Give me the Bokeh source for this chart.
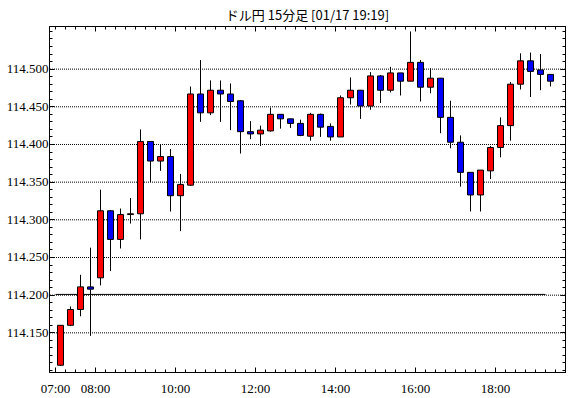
from bokeh.plotting import figure
from bokeh.models import Range1d, LinearAxis, FixedTicker, ColumnDataSource, PrintfTickFormatter, CustomJSTickFormatter
from bokeh.embed import file_html
from bokeh.resources import INLINE

title_text = "ドル円 15分足 [01/17 19:19]"

times = ["07:00", "07:15", "07:30", "07:45", "08:00", "08:15", "08:30", "08:45",
         "09:00", "09:15", "09:30", "09:45", "10:00", "10:15", "10:30", "10:45",
         "11:00", "11:15", "11:30", "11:45", "12:00", "12:15", "12:30", "12:45",
         "13:00", "13:15", "13:30", "13:45", "14:00", "14:15", "14:30", "14:45",
         "15:00", "15:15", "15:30", "15:45", "16:00", "16:15", "16:30", "16:45",
         "17:00", "17:15", "17:30", "17:45", "18:00", "18:15", "18:30", "18:45",
         "19:00", "19:15"]

opens = [114.107, 114.160, 114.181, 114.211, 114.223, 114.312, 114.274, 114.307,
         114.308, 114.404, 114.378, 114.384, 114.332, 114.346, 114.467, 114.442,
         114.472, 114.467, 114.458, 114.417, 114.414, 114.418, 114.440, 114.434,
         114.428, 114.411, 114.440, 114.424, 114.410, 114.462, 114.472, 114.451,
         114.491, 114.472, 114.495, 114.484, 114.509, 114.476, 114.488, 114.436,
         114.403, 114.363, 114.333, 114.365, 114.396, 114.425, 114.480, 114.511,
         114.499, 114.493]
highs = [114.160, 114.185, 114.227, 114.263, 114.340, 114.313, 114.315, 114.329,
         114.420, 114.404, 114.400, 114.394, 114.361, 114.477, 114.512, 114.485,
         114.485, 114.481, 114.459, 114.431, 114.425, 114.449, 114.440, 114.434,
         114.433, 114.442, 114.441, 114.428, 114.465, 114.489, 114.472, 114.496,
         114.492, 114.503, 114.495, 114.550, 114.512, 114.501, 114.488, 114.458,
         114.412, 114.363, 114.366, 114.398, 114.436, 114.483, 114.521, 114.522,
         114.520, 114.493]
lows = [114.106, 114.159, 114.172, 114.146, 114.213, 114.232, 114.262, 114.295,
        114.274, 114.350, 114.365, 114.311, 114.285, 114.345, 114.430, 114.439,
        114.430, 114.419, 114.388, 114.407, 114.398, 114.417, 114.421, 114.422,
        114.411, 114.405, 114.410, 114.405, 114.410, 114.453, 114.434, 114.446,
        114.455, 114.469, 114.465, 114.484, 114.457, 114.468, 114.415, 114.395,
        114.344, 114.311, 114.311, 114.354, 114.383, 114.405, 114.473, 114.463,
        114.472, 114.477]
closes = [114.160, 114.181, 114.211, 114.208, 114.312, 114.274, 114.307, 114.308,
          114.404, 114.378, 114.384, 114.332, 114.347, 114.467, 114.442, 114.472,
          114.467, 114.457, 114.417, 114.414, 114.419, 114.440, 114.434, 114.428,
          114.412, 114.440, 114.423, 114.410, 114.462, 114.472, 114.451, 114.491,
          114.472, 114.495, 114.484, 114.509, 114.476, 114.488, 114.436, 114.403,
          114.363, 114.333, 114.366, 114.396, 114.425, 114.480, 114.511, 114.497,
          114.493, 114.484]

ref_level = [114.201]
ref_span = ["07:00", "19:15"]

x_tick_hours = [7, 8, 10, 12, 14, 16, 18]
y_ticks = [114.15, 114.20, 114.25, 114.30, 114.35, 114.40, 114.45, 114.50]

UP = "#FF0000"
DOWN = "#0000FF"
BAR_HOURS = 0.25


def to_hours(s):
    h, m = s.split(":")
    return int(h) + int(m) / 60.0


xs = [to_hours(t) + BAR_HOURS / 2 for t in times]
src = ColumnDataSource(dict(
    x=xs,
    high=highs,
    low=lows,
    top=[max(o, c) for o, c in zip(opens, closes)],
    bottom=[min(o, c) for o, c in zip(opens, closes)],
    color=[UP if c >= o else DOWN for o, c in zip(opens, closes)],
))

# frame: x 49..565 (516 px, 40 px per hour), y 25..374 (349 px, 760 px per 1.0 yen)
PX_X = 40.0
PX_Y = 760.0
x_min = 7.0 - 6.0 / PX_X
x_max = x_min + 516.0 / PX_X
y_max = 114.5 + 43.0 / PX_Y
y_min = y_max - 349.0 / PX_Y

p = figure(width=570, height=398, output_backend="svg", toolbar_location=None,
           x_range=Range1d(x_min, x_max), y_range=Range1d(y_min, y_max),
           min_border_left=49, min_border_right=5, min_border_top=25, min_border_bottom=24,
           title=title_text)
p.background_fill_color = "white"
p.border_fill_color = "white"
p.outline_line_color = "black"
p.outline_line_width = 1

p.title.text_font = "Noto Sans CJK JP"
p.title.text_font_size = "13px"
p.title.text_font_style = "normal"
p.title.text_color = "black"
p.title.align = "center"
p.title.standoff = 5

minor_x = [6.75 + 0.25 * k for k in range(54)]
minor_y = [round(114.09 + 0.01 * k, 2) for k in range(48)]

xticker = FixedTicker(ticks=x_tick_hours, minor_ticks=minor_x)
xticker_top = FixedTicker(ticks=[h for h in x_tick_hours if h % 2 == 0], minor_ticks=minor_x)
yticker = FixedTicker(ticks=y_ticks, minor_ticks=minor_y)

LABEL_FONT = "Liberation Sans Narrow"


def style_axis(ax, ticker, labels):
    ax.ticker = ticker
    ax.axis_line_color = "black"
    ax.major_tick_line_color = "black"
    ax.minor_tick_line_color = "black"
    ax.major_tick_in = 5
    ax.major_tick_out = 0
    ax.minor_tick_in = 3
    ax.minor_tick_out = 0
    if labels:
        ax.major_label_text_font = LABEL_FONT
        ax.major_label_text_font_size = "13px"
        ax.major_label_text_color = "black"
        ax.major_label_standoff = 3
    else:
        ax.major_label_text_font_size = "0px"
        ax.major_label_text_alpha = 0
        ax.major_label_standoff = 0


xax = p.xaxis[0]
style_axis(xax, xticker, True)
xax.formatter = CustomJSTickFormatter(code="const h = Math.round(tick); return (h < 10 ? '0' : '') + h + ':00';")
xax.major_label_standoff = 8

yax = p.yaxis[0]
style_axis(yax, yticker, True)
yax.formatter = PrintfTickFormatter(format="%.3f")
yax.major_label_standoff = 1

top_ax = LinearAxis()
style_axis(top_ax, xticker_top, False)
p.add_layout(top_ax, "above")

right_ax = LinearAxis()
style_axis(right_ax, yticker, False)
p.add_layout(right_ax, "right")

# dotted horizontal gridlines at the major price ticks, drawn as segments across the frame
p.xgrid.visible = False
p.ygrid.visible = False
grid_x0 = x_min + 0.5 / PX_X
p.segment(x0=[grid_x0] * len(y_ticks), x1=[x_max] * len(y_ticks), y0=y_ticks, y1=y_ticks,
          line_color="black", line_width=1, line_dash="1 1")

# reference level line
p.segment(x0=[to_hours(ref_span[0])], x1=[to_hours(ref_span[1])], y0=ref_level, y1=ref_level,
          line_color="black", line_width=1)

# wicks and bodies
p.segment(x0="x", x1="x", y0="low", y1="high", source=src, line_color="black", line_width=1)
p.vbar(x="x", width=0.15, top="top", bottom="bottom", source=src,
       fill_color="color", line_color="black", line_width=1)

open("out.html", "w").write(file_html(p, INLINE))
